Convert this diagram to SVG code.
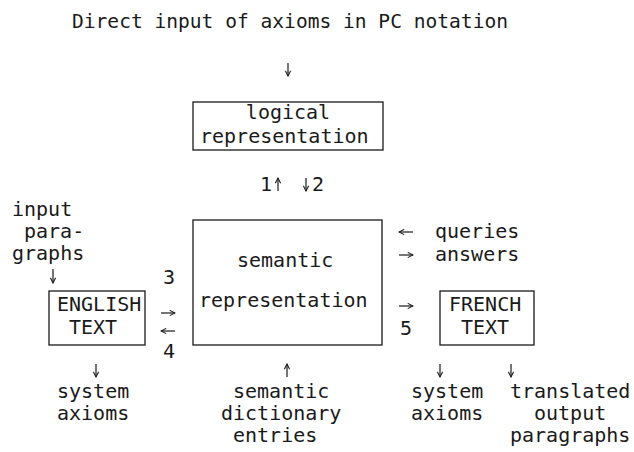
<svg xmlns="http://www.w3.org/2000/svg" width="634" height="452" viewBox="0 0 634 452">
<style>
.t{font-family:"DejaVu Sans Mono","Liberation Mono",monospace;font-size:20px;fill:#1a1a1a}
.box{fill:none;stroke:#1a1a1a;stroke-width:1.3}
.arr{fill:none;stroke:#1a1a1a;stroke-width:1.2;marker-end:url(#ah)}
</style>
<defs>
<marker id="ah" viewBox="0 0 8 8" refX="7" refY="4" markerWidth="7" markerHeight="7" markerUnits="userSpaceOnUse" orient="auto">
<path d="M1,1 L7,4 L1,7" fill="none" stroke="#1a1a1a" stroke-width="1.2"/>
</marker>
</defs>
<rect width="634" height="452" fill="#ffffff"/>
<g id="title"><text class="t" x="72" y="28" textLength="436" lengthAdjust="spacingAndGlyphs">Direct input of axioms in PC notation</text></g>
<g id="logical">
<rect class="box" x="193" y="102" width="190" height="48"/>
<text class="t" x="288" y="119" text-anchor="middle">logical</text>
<text class="t" x="200" y="143">representation</text>
</g>
<g id="semantic">
<rect class="box" x="193" y="220" width="189" height="125"/>
<text class="t" x="237" y="267">semantic</text>
<text class="t" x="199" y="307">representation</text>
</g>
<g id="input">
<text class="t" x="12" y="216">input</text>
<text class="t" x="24" y="238">para-</text>
<text class="t" x="12" y="260">graphs</text>
</g>
<g id="english">
<rect class="box" x="49" y="291" width="96" height="54"/>
<text class="t" x="57" y="311">ENGLISH</text>
<text class="t" x="69" y="334">TEXT</text>
</g>
<g id="french">
<rect class="box" x="440" y="291" width="94" height="54"/>
<text class="t" x="449" y="311">FRENCH</text>
<text class="t" x="461" y="334">TEXT</text>
</g>
<g id="queries"><text class="t" x="435" y="238">queries</text></g>
<g id="answers"><text class="t" x="435" y="261">answers</text></g>
<g id="sys-axioms-left">
<text class="t" x="57" y="398">system</text>
<text class="t" x="57" y="420">axioms</text>
</g>
<g id="sem-dict">
<text class="t" x="233" y="398">semantic</text>
<text class="t" x="221" y="420">dictionary</text>
<text class="t" x="233" y="442">entries</text>
</g>
<g id="sys-axioms-right">
<text class="t" x="411" y="398">system</text>
<text class="t" x="411" y="420">axioms</text>
</g>
<g id="translated">
<text class="t" x="510" y="398">translated</text>
<text class="t" x="534" y="420">output</text>
<text class="t" x="510" y="442">paragraphs</text>
</g>
<g id="connectors">
<line class="arr" x1="288" y1="63" x2="288" y2="76"/>
<text class="t" x="260" y="191">1</text>
<line class="arr" x1="278" y1="191" x2="278" y2="178"/>
<line class="arr" x1="306" y1="178" x2="306" y2="191"/>
<text class="t" x="312" y="191">2</text>
<line class="arr" x1="53" y1="269" x2="53" y2="283"/>
<text class="t" x="163" y="284">3</text>
<line class="arr" x1="161" y1="313" x2="175" y2="313"/>
<line class="arr" x1="175" y1="331" x2="161" y2="331"/>
<text class="t" x="163" y="358">4</text>
<line class="arr" x1="413" y1="232" x2="399" y2="232"/>
<line class="arr" x1="399" y1="255" x2="413" y2="255"/>
<line class="arr" x1="399" y1="306" x2="413" y2="306"/>
<text class="t" x="400" y="335">5</text>
<line class="arr" x1="96" y1="364" x2="96" y2="377"/>
<line class="arr" x1="287" y1="377" x2="287" y2="364"/>
<line class="arr" x1="440" y1="364" x2="440" y2="377"/>
<line class="arr" x1="511" y1="364" x2="511" y2="377"/>
</g>
</svg>
